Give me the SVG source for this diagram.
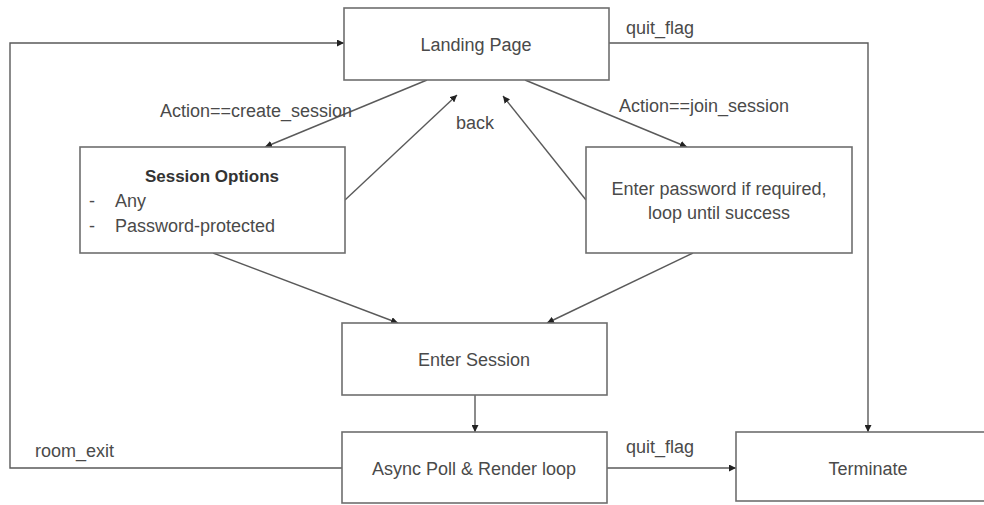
<svg xmlns="http://www.w3.org/2000/svg" width="984" height="505" viewBox="0 0 984 505">
<defs>
<marker id="ah" viewBox="0 0 10 10" refX="10" refY="5" markerWidth="7" markerHeight="7" markerUnits="userSpaceOnUse" orient="auto">
<path d="M0,0 L10,5 L0,10 z" fill="#222"/>
</marker>
</defs>
<style>
.box{fill:#fff;stroke:#6e6e6e;stroke-width:1.6}
.t{font-family:"Liberation Sans",Arial,sans-serif;font-size:18px;fill:#4a4a4a}
.c{text-anchor:middle}
.b{font-weight:bold;font-size:17px;fill:#333}
.ln{fill:none;stroke:#5a5a5a;stroke-width:1.4;marker-end:url(#ah)}
</style>
<rect width="984" height="505" fill="#fff"/>
<g id="connectors">
<line class="ln" x1="427" y1="80" x2="265" y2="147"/>
<line class="ln" x1="345" y1="200" x2="457" y2="95"/>
<line class="ln" x1="586" y1="200" x2="503" y2="96"/>
<line class="ln" x1="525" y1="80" x2="687" y2="147"/>
<line class="ln" x1="213" y1="253" x2="398" y2="323"/>
<line class="ln" x1="693" y1="253" x2="547" y2="323"/>
<line class="ln" x1="475" y1="395" x2="475" y2="432"/>
<line class="ln" x1="607" y1="468" x2="736" y2="468"/>
<polyline class="ln" points="609,43 868,43 868,432"/>
<polyline class="ln" points="342,468 10,468 10,43 344,43"/>
<text class="t" x="160" y="117">Action==create_session</text>
<text class="t" x="456" y="129">back</text>
<text class="t" x="619" y="112">Action==join_session</text>
<text class="t" x="626" y="34">quit_flag</text>
<text class="t" x="35" y="457">room_exit</text>
<text class="t" x="626" y="453">quit_flag</text>
</g>
<g id="landing">
<rect class="box" x="344" y="8" width="265" height="72"/>
<text class="t c" x="476" y="51">Landing Page</text>
</g>
<g id="session-options">
<rect class="box" x="80" y="147" width="265" height="106"/>
<text class="t c b" x="212" y="182">Session Options</text>
<text class="t" x="89" y="207">-</text>
<text class="t" x="115" y="207">Any</text>
<text class="t" x="89" y="232">-</text>
<text class="t" x="115" y="232">Password-protected</text>
</g>
<g id="enter-password">
<rect class="box" x="586" y="147" width="266" height="106"/>
<text class="t c" x="719" y="195">Enter password if required,</text>
<text class="t c" x="719" y="219">loop until success</text>
</g>
<g id="enter-session">
<rect class="box" x="342" y="323" width="265" height="72"/>
<text class="t c" x="474" y="366">Enter Session</text>
</g>
<g id="async-loop">
<rect class="box" x="342" y="432" width="265" height="71"/>
<text class="t c" x="474" y="475">Async Poll &amp; Render loop</text>
</g>
<g id="terminate">
<rect class="box" x="736" y="432" width="260" height="69"/>
<text class="t c" x="868" y="475">Terminate</text>
</g>
</svg>
